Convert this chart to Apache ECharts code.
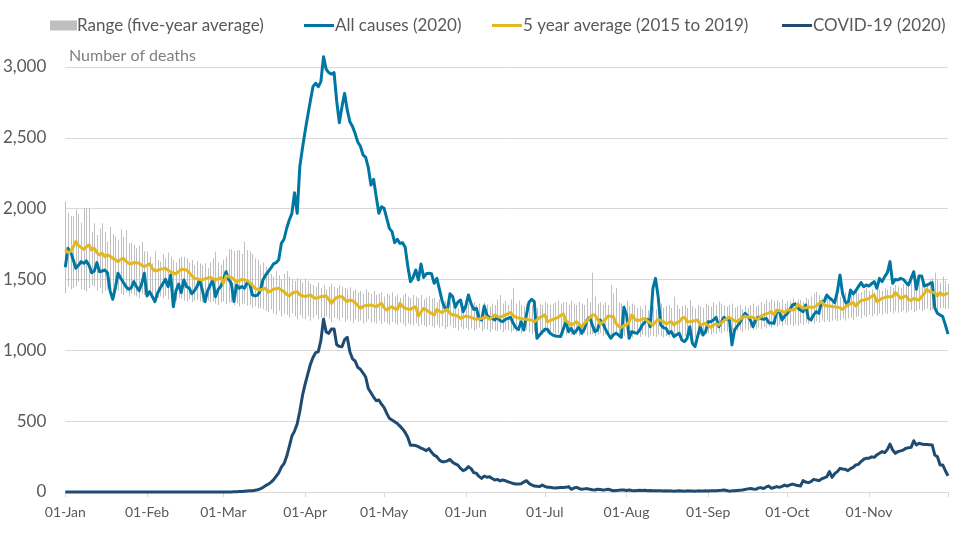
<!DOCTYPE html>
<html><head><meta charset="utf-8">
<script src="https://cdn.jsdelivr.net/npm/echarts@6/dist/echarts.min.js"></script>
<style>html,body{margin:0;padding:0;background:#fff}#c{width:970px;height:543px}</style>
</head><body><div id="c"></div>
<script>
const monthNames = ['Jan','Feb','Mar','Apr','May','Jun','Jul','Aug','Sep','Oct','Nov','Dec'];
const tickLabels = ['01-Jan','01-Feb','01-Mar','01-Apr','01-May','01-Jun','01-Jul','01-Aug','01-Sep','01-Oct','01-Nov'];
const yTicks = [0, 500, 1000, 1500, 2000, 2500, 3000];
const NDAYS = 336;
const days = [];
for (let i = 0; i < NDAYS; i++) {
  const d = new Date(Date.UTC(2020, 0, 1) + i * 86400000);
  days.push(String(d.getUTCDate()).padStart(2, '0') + '-' + monthNames[d.getUTCMonth()]);
}

const allCauses = [
1586,1720,1697,1640,1579,1600,1626,1614,1631,1600,
1548,1560,1619,1555,1560,1567,1548,1420,1360,1440,
1544,1510,1480,1450,1431,1440,1485,1450,1420,1470,
1544,1384,1414,1380,1344,1403,1438,1470,1501,1450,
1532,1308,1420,1468,1407,1497,1450,1440,1400,1420,
1450,1497,1426,1344,1420,1461,1492,1379,1430,1450,
1500,1555,1500,1473,1344,1461,1438,1450,1438,1478,
1470,1391,1384,1390,1420,1497,1530,1555,1580,1610,
1619,1640,1755,1784,1860,1920,1967,2113,1967,2297,
2426,2544,2654,2760,2861,2885,2861,2897,3073,2984,
2960,2950,2960,2760,2607,2720,2814,2697,2614,2580,
2530,2470,2440,2380,2362,2290,2167,2207,2085,1967,
2014,2002,1932,1861,1838,1760,1784,1755,1760,1727,
1591,1485,1515,1567,1497,1610,1515,1540,1544,1540,
1473,1508,1430,1350,1300,1285,1400,1380,1304,1340,
1355,1273,1313,1391,1330,1289,1297,1230,1214,1313,
1250,1230,1226,1214,1233,1210,1202,1219,1225,1233,
1191,1160,1148,1202,1144,1250,1340,1360,1344,1085,
1108,1130,1148,1148,1120,1108,1101,1100,1097,1150,
1202,1132,1155,1120,1140,1167,1120,1150,1214,1233,
1180,1132,1144,1214,1190,1150,1115,1085,1110,1120,
1108,1092,1304,1250,1085,1132,1125,1120,1144,1179,
1200,1219,1167,1438,1508,1379,1179,1160,1155,1120,
1132,1097,1110,1120,1073,1061,1085,1167,1049,1026,
1100,1167,1108,1132,1202,1202,1215,1233,1167,1200,
1233,1219,1226,1038,1144,1170,1195,1233,1261,1240,
1214,1167,1214,1233,1225,1219,1226,1195,1193,1191,
1280,1273,1214,1242,1261,1289,1320,1327,1300,1285,
1273,1320,1226,1214,1250,1273,1261,1344,1344,1391,
1370,1355,1337,1414,1532,1400,1344,1320,1426,1398,
1421,1450,1478,1449,1461,1454,1470,1485,1438,1508,
1485,1520,1548,1626,1473,1501,1497,1508,1501,1480,
1461,1508,1555,1431,1525,1525,1454,1461,1470,1478,
1300,1262,1250,1238,1180,1115
];

const fiveYearAvg = [
1713,1690,1697,1730,1767,1740,1727,1713,1730,1744,
1708,1720,1690,1673,1685,1661,1673,1665,1650,1640,
1626,1640,1650,1630,1615,1610,1620,1619,1615,1600,
1591,1600,1610,1580,1560,1565,1572,1575,1579,1565,
1555,1545,1539,1555,1572,1570,1567,1550,1525,1508,
1505,1500,1497,1505,1510,1515,1505,1497,1505,1513,
1473,1525,1520,1515,1500,1485,1492,1501,1497,1492,
1478,1460,1438,1430,1426,1432,1438,1410,1420,1431,
1435,1438,1425,1414,1395,1384,1403,1410,1414,1391,
1385,1379,1385,1391,1375,1367,1372,1379,1382,1384,
1360,1332,1355,1374,1378,1379,1360,1344,1356,1350,
1337,1315,1297,1310,1316,1318,1320,1314,1308,1320,
1332,1300,1285,1300,1308,1295,1289,1332,1310,1297,
1292,1289,1300,1308,1242,1270,1297,1285,1273,1260,
1250,1289,1275,1266,1280,1289,1260,1250,1250,1240,
1226,1235,1242,1238,1233,1225,1219,1222,1226,1230,
1233,1219,1235,1250,1240,1233,1242,1250,1258,1266,
1245,1233,1228,1226,1220,1219,1215,1214,1202,1215,
1233,1240,1250,1202,1210,1219,1225,1233,1245,1257,
1210,1195,1179,1190,1202,1185,1167,1190,1210,1230,
1250,1250,1220,1186,1200,1219,1242,1240,1238,1190,
1170,1162,1175,1179,1202,1250,1225,1210,1214,1220,
1226,1205,1191,1179,1200,1219,1210,1202,1186,1195,
1202,1179,1195,1202,1225,1233,1202,1202,1205,1210,
1214,1179,1185,1191,1175,1162,1180,1186,1179,1195,
1210,1222,1233,1219,1210,1202,1219,1230,1242,1235,
1233,1233,1225,1219,1242,1250,1257,1265,1273,1250,
1285,1280,1278,1266,1285,1285,1285,1290,1327,1310,
1297,1300,1304,1304,1304,1313,1330,1344,1320,1313,
1313,1310,1308,1305,1300,1289,1305,1320,1330,1337,
1313,1335,1351,1355,1360,1367,1380,1391,1344,1355,
1367,1372,1379,1379,1379,1407,1390,1367,1375,1384,
1360,1351,1367,1360,1355,1380,1400,1431,1414,1410,
1407,1384,1407,1391,1395,1403
];

const covid = [
0,0,0,0,0,0,0,0,0,0,
0,0,0,0,0,0,0,0,0,0,
0,0,0,0,0,0,0,0,0,0,
0,0,0,0,0,0,0,0,0,0,
0,0,0,0,0,0,0,0,0,0,
0,0,0,0,0,0,0,0,0,0,
0,0,0,0,1,2,3,4,6,7,
8,9,12,16,22,32,45,55,68,85,
110,135,175,200,250,320,395,430,480,570,
680,760,830,900,950,984,990,1070,1219,1130,
1120,1150,1150,1040,1028,1026,1075,1092,990,940,
925,880,866,840,812,730,700,670,645,650,
620,595,555,520,508,496,484,465,445,420,
385,330,330,328,320,310,302,292,306,280,
260,250,225,214,214,220,230,210,198,190,
167,151,160,179,165,137,132,110,96,113,
104,108,95,85,89,78,85,80,72,66,
60,56,56,58,70,80,61,50,42,40,
38,49,40,33,33,30,28,30,31,32,
33,38,19,28,33,25,19,22,24,20,
16,14,19,17,14,16,19,14,9,11,
12,14,14,11,14,10,9,11,12,10,
12,9,10,9,8,9,8,7,9,7,
8,6,7,8,7,6,8,7,7,6,
8,7,7,8,7,8,9,9,11,12,
14,10,6,8,9,11,13,14,18,22,
24,21,19,28,31,24,36,42,26,32,
38,33,40,49,42,50,56,50,46,42,
80,70,66,73,89,85,80,92,100,108,
144,104,130,144,167,162,160,151,165,174,
191,195,215,231,238,238,248,245,262,273,
285,278,301,339,296,273,285,290,296,308,
312,315,362,332,344,339,336,336,334,332,
261,249,191,191,150,115
];

const rangeHigh = [
2050,1967,1948,1948,1995,1962,1900,2003,2003,2003,
1838,1897,1814,1860,1897,1838,1767,1873,1820,1803,
1780,1854,1800,1850,1755,1760,1744,1720,1740,1767,
1700,1697,1660,1614,1700,1638,1626,1680,1650,1690,
1661,1640,1620,1650,1661,1661,1650,1620,1638,1600,
1630,1614,1600,1614,1580,1620,1650,1697,1620,1603,
1640,1660,1713,1713,1700,1708,1708,1680,1767,1708,
1700,1680,1650,1640,1600,1620,1590,1560,1540,1520,
1560,1530,1500,1540,1560,1520,1500,1490,1510,1500,
1480,1508,1490,1470,1460,1450,1480,1440,1460,1430,
1450,1470,1450,1440,1460,1450,1440,1430,1445,1420,
1430,1410,1420,1400,1430,1410,1400,1420,1390,1400,
1410,1380,1400,1390,1410,1380,1395,1370,1390,1400,
1380,1370,1390,1380,1370,1390,1360,1375,1385,1365,
1370,1340,1360,1330,1350,1320,1340,1310,1330,1300,
1320,1310,1335,1330,1315,1340,1320,1330,1300,1340,
1325,1310,1330,1320,1360,1391,1330,1350,1320,1360,
1438,1330,1350,1320,1310,1330,1300,1320,1310,1300,
1330,1320,1340,1330,1320,1330,1340,1350,1330,1340,
1340,1320,1350,1330,1320,1340,1330,1320,1367,1340,
1548,1380,1330,1340,1320,1340,1320,1461,1400,1438,
1340,1330,1320,1350,1310,1330,1320,1300,1310,1290,
1320,1285,1300,1310,1290,1320,1330,1300,1310,1320,
1300,1379,1320,1295,1310,1320,1300,1355,1310,1295,
1320,1310,1300,1330,1320,1310,1340,1320,1345,1330,
1320,1310,1320,1330,1300,1310,1320,1290,1310,1300,
1320,1330,1310,1320,1340,1330,1355,1340,1360,1350,
1355,1340,1360,1330,1350,1350,1367,1344,1360,1355,
1340,1370,1360,1380,1400,1414,1390,1370,1380,1367,
1380,1344,1390,1400,1379,1390,1410,1400,1390,1415,
1420,1400,1410,1425,1440,1420,1430,1410,1445,1430,
1420,1440,1430,1450,1440,1460,1450,1440,1470,1480,
1460,1490,1470,1480,1500,1480,1490,1470,1500,1510,
1548,1500,1480,1520,1490,1470
];

const rangeLow = [
1403,1450,1431,1440,1450,1485,1430,1426,1414,1438,
1460,1450,1420,1440,1400,1420,1430,1400,1410,1430,
1420,1400,1390,1410,1380,1400,1390,1380,1370,1400,
1390,1400,1390,1380,1390,1370,1380,1370,1385,1360,
1375,1360,1350,1370,1365,1350,1345,1360,1340,1350,
1355,1345,1340,1330,1350,1340,1345,1330,1320,1340,
1345,1325,1335,1340,1320,1330,1310,1325,1330,1315,
1320,1300,1310,1295,1300,1290,1280,1270,1290,1260,
1250,1280,1240,1260,1250,1230,1260,1240,1220,1250,
1230,1220,1240,1210,1230,1250,1220,1230,1210,1240,
1220,1200,1230,1220,1210,1230,1200,1220,1210,1190,
1220,1200,1210,1190,1200,1220,1195,1200,1190,1210,
1185,1200,1190,1180,1200,1190,1180,1195,1185,1170,
1190,1180,1175,1190,1170,1180,1175,1165,1180,1170,
1160,1180,1160,1170,1150,1165,1175,1155,1160,1140,
1165,1150,1160,1145,1155,1140,1150,1160,1135,1150,
1145,1130,1150,1140,1135,1150,1130,1145,1140,1125,
1140,1130,1135,1120,1130,1140,1125,1115,1130,1120,
1130,1110,1125,1120,1115,1125,1110,1120,1130,1115,
1105,1120,1110,1125,1115,1100,1110,1120,1105,1110,
1115,1100,1110,1120,1100,1110,1105,1110,1100,1120,
1095,1110,1100,1115,1100,1090,1110,1105,1095,1110,
1100,1090,1105,1100,1095,1110,1100,1090,1100,1095,
1110,1090,1100,1105,1095,1100,1110,1095,1100,1090,
1105,1110,1100,1115,1120,1110,1125,1115,1130,1120,
1135,1130,1125,1140,1130,1135,1145,1130,1150,1140,
1155,1145,1150,1160,1150,1165,1155,1170,1160,1175,
1165,1180,1170,1185,1175,1180,1170,1185,1175,1190,
1180,1195,1185,1200,1190,1205,1195,1210,1200,1215,
1200,1210,1220,1205,1215,1225,1210,1225,1230,1215,
1235,1240,1225,1245,1235,1250,1240,1255,1245,1260,
1250,1265,1255,1270,1260,1275,1265,1270,1280,1265,
1275,1285,1270,1280,1290,1275,1285,1295,1280,1290,
1300,1285,1295,1300,1290,1295
];

const FONT = 'Lato';
const COL_ALL = '#0077A3', COL_AVG = '#E3B71F', COL_COVID = '#1F4B70', COL_RANGE = '#BFBFBF';
const NAMES = ['Range (five-year average)', 'All causes (2020)', '5 year average (2015 to 2019)', 'COVID-19 (2020)'];
const legendLefts = [45, 299, 487, 777];
const LINE_ICON = 'path://M0,0L0,0M0,3.5L30,3.5L30,6.5L0,6.5ZM30,10L30,10';
const RECT_ICON = 'path://M0,0L27,0L27,10L0,10ZM30,10L30,10';

const chart = echarts.init(document.getElementById('c'), null, {renderer: 'canvas'});
const lens = [allCauses.length, fiveYearAvg.length, covid.length, rangeHigh.length, rangeLow.length];
const bad = lens.some(l => l !== NDAYS);

chart.setOption({
  animation: false,
  backgroundColor: '#ffffff',
  grid: {left: 63, right: 22, top: 67, bottom: 51, containLabel: false},
  legend: NAMES.map((n, k) => ({
    top: 12, left: legendLefts[k], itemGap: 0, itemWidth: 30, itemHeight: 10,
    selectedMode: false,
    textStyle: {color: '#595959', fontSize: 17, fontFamily: FONT, padding: [0, 0, 0, k === 0 ? -8 : -4]},
    data: [{name: n, icon: k === 0 ? RECT_ICON : LINE_ICON}]
  })),
  graphic: [
    {type: 'text', left: 69, top: 48, style: {text: 'Number of deaths', fill: '#7F7F7F', font: '16px ' + FONT}},
    bad ? {type: 'text', left: 400, top: 150, style: {text: 'LEN ' + lens.join(','), fill: 'red', font: '20px sans-serif'}} : {type: 'group'}
  ],
  xAxis: {
    type: 'category', data: days, boundaryGap: false,
    axisLine: {lineStyle: {color: '#D9D9D9', width: 1}},
    axisTick: {show: true, length: 5, lineStyle: {color: '#D9D9D9'},
      interval: (i, v) => v.startsWith('01-')},
    axisLabel: {color: '#595959', fontSize: 14, fontFamily: FONT, margin: 13,
      interval: (i, v) => tickLabels.includes(v)},
    splitLine: {show: false}
  },
  yAxis: {
    type: 'value', min: yTicks[0], max: yTicks[yTicks.length - 1], interval: 500,
    axisLine: {show: false}, axisTick: {show: false},
    axisLabel: {color: '#595959', fontSize: 17, fontFamily: FONT, margin: 19,
      formatter: v => v.toLocaleString('en-US')},
    splitLine: {lineStyle: {color: '#D9D9D9', width: 1}}
  },
  series: [
    {
      name: NAMES[0], type: 'custom',
      itemStyle: {color: COL_RANGE},
      encode: {x: 0, y: [1, 2]},
      data: rangeLow.map((l, i) => [i, l, rangeHigh[i]]),
      renderItem: (params, api) => {
        const p1 = api.coord([api.value(0), api.value(1)]);
        const p2 = api.coord([api.value(0), api.value(2)]);
        const x = Math.round(p1[0]) + 0.5;
        return {type: 'line', shape: {x1: x, y1: p1[1], x2: x, y2: p2[1]},
          style: {stroke: COL_RANGE, lineWidth: 1}};
      },
      z: 1
    },
    {name: NAMES[1], type: 'line', data: allCauses, symbol: 'none', showSymbol: false,
      clip: false, lineStyle: {color: COL_ALL, width: 3, join: 'round'}, itemStyle: {color: COL_ALL}, z: 2},
    {name: NAMES[2], type: 'line', data: fiveYearAvg, symbol: 'none', showSymbol: false,
      clip: false, lineStyle: {color: COL_AVG, width: 3, join: 'round'}, itemStyle: {color: COL_AVG}, z: 3},
    {name: NAMES[3], type: 'line', data: covid, symbol: 'none', showSymbol: false,
      clip: false, lineStyle: {color: COL_COVID, width: 3, join: 'round'}, itemStyle: {color: COL_COVID}, z: 4}
  ]
});
</script>
</body></html>
